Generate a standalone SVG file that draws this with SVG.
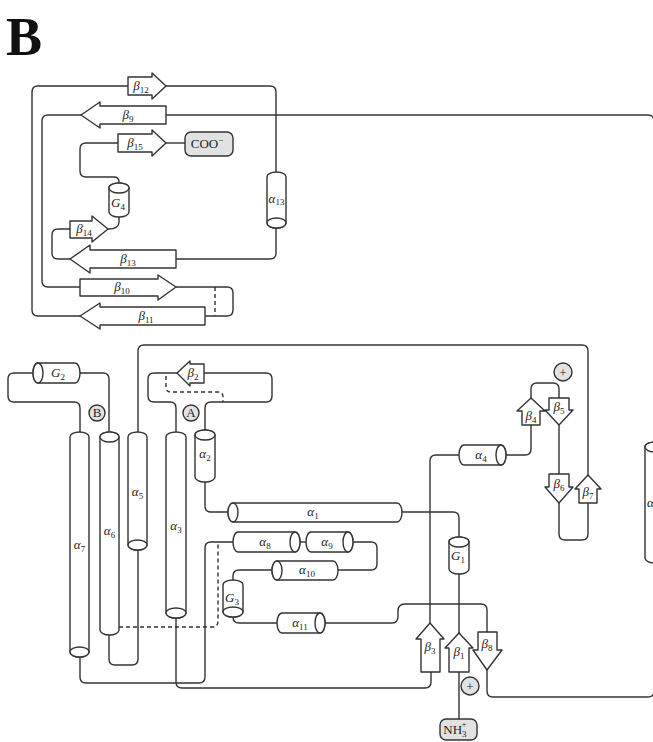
<svg xmlns="http://www.w3.org/2000/svg" width="653" height="742" viewBox="0 0 653 742">
<style>
.ln{fill:none;stroke:#333;stroke-width:1.4;stroke-linejoin:round}
.dash{stroke-dasharray:4 3}
.sh{fill:#fff;stroke:#333;stroke-width:1.4;stroke-linejoin:round}
.gr{fill:#e2e2e2;stroke:#333;stroke-width:1.4}
.lb{font-family:"Liberation Serif",serif;font-style:italic;font-size:13px;text-anchor:middle;fill:#222}
.sub{font-style:normal;font-size:9px}
.tx{font-family:"Liberation Serif",serif;font-size:13px;text-anchor:middle;fill:#222}
</style>
<rect width="653" height="742" fill="#fff"/>
<text x="6" y="55" font-family="Liberation Serif,serif" font-size="54" font-weight="bold" fill="#111">B</text>

<g id="connectors">
<path class="ln" d="M80,316 H38 Q32,316 32,310 V92 Q32,86 38,86 H128"/>
<path class="ln" d="M166,86 H270 Q276,86 276,92 V172"/>
<path class="ln" d="M276,228 V253 Q276,259 270,259 H176"/>
<path class="ln" d="M70,259 H58 Q52,259 52,253 V235 Q52,229 58,229 H70"/>
<path class="ln" d="M119,217 V222 Q119,229 108,229"/>
<path class="ln" d="M119,183 V182 Q119,177 114,177 H86 Q80,177 80,171 V149 Q80,143 86,143 H118"/>
<path class="ln" d="M166,143 H185"/>
<path class="ln" d="M81,115 H48 Q42,115 42,121 V281 Q42,287 48,287 H80"/>
<path class="ln" d="M176,287 H227 Q233,287 233,293 V310 Q233,316 227,316 H205"/>
<path class="ln dash" d="M215,287 V316"/>
<path class="ln" d="M166,115 H648 Q654,115 654,121 V691 Q654,697 648,697 H493 Q487,697 487,691 V670"/>
<path class="ln" d="M138,432 V351 Q138,345 144,345 H582 Q588,345 588,351 V475"/>
<path class="ln" d="M33,373 H14 Q8,373 8,379 V396 Q8,402 14,402 H74 Q80,402 80,408 V432"/>
<path class="ln" d="M80,373 H103 Q109,373 109,379 V432"/>
<path class="ln" d="M177,373 H154 Q148,373 148,379 V396 Q148,402 154,402 H170 Q176,402 176,408 V432"/>
<path class="ln" d="M204,373 H266 Q272,373 272,379 V396 Q272,402 266,402 H211 Q205,402 205,408 V432"/>
<path class="ln dash" d="M166,376 V387 Q166,392 171,392 H218 Q223,392 223,397 V402"/>
<path class="ln" d="M205,480 V506 Q205,512 211,512 H228"/>
<path class="ln" d="M402,512 H453 Q459,512 459,518 V540"/>
<path class="ln" d="M459,570 V633"/>
<path class="ln" d="M459,672 V719"/>
<path class="ln" d="M80,652 V677 Q80,683 86,683 H199 Q205,683 205,677 V548 Q205,542 211,542 H233"/>
<path class="ln dash" d="M119,627 H212 Q218,627 218,621 V542"/>
<path class="ln" d="M300,542 H306"/>
<path class="ln" d="M353,542 H371 Q377,542 377,548 V564 Q377,570 371,570 H338"/>
<path class="ln" d="M272,570 H239 Q233,570 233,576 V580"/>
<path class="ln" d="M233,612 V617 Q233,623 239,623 H277"/>
<path class="ln" d="M325,623 H392 Q398,623 398,616 V611 Q398,604 405,604 H481 Q487,604 487,610 V632"/>
<path class="ln" d="M109,635 V659 Q109,665 115,665 H132 Q138,665 138,659 V545"/>
<path class="ln" d="M176,613 V682 Q176,688 182,688 H425 Q431,688 431,682 V672"/>
<path class="ln" d="M430,623 V461 Q430,455 436,455 H459"/>
<path class="ln" d="M506,455 H525 Q531,455 531,449 V425"/>
<path class="ln" d="M531,398 V389 Q531,383 537,383 H553 Q559,383 559,389 V398"/>
<path class="ln" d="M559,425 V474"/>
<path class="ln" d="M559,503 V534 Q559,540 565,540 H582 Q588,540 588,534 V503"/>
</g>

<g id="b12"><polygon class="sh" points="128,77 152,77 152,73 166,86 152,99 152,95 128,95"/><text class="lb" x="141" y="90">β<tspan class="sub" dy="3">12</tspan></text></g>
<g id="b9"><polygon class="sh" points="166,106 100,106 100,102 81,115 100,128 100,124 166,124"/><text class="lb" x="128" y="119">β<tspan class="sub" dy="3">9</tspan></text></g>
<g id="b15"><polygon class="sh" points="118,134 152,134 152,130 166,143 152,156 152,152 118,152"/><text class="lb" x="135" y="147">β<tspan class="sub" dy="3">15</tspan></text></g>
<g id="coo"><rect class="gr" x="185" y="132" width="48" height="24" rx="6"/><text class="tx" x="207" y="148">COO<tspan font-size="9" dy="-5">−</tspan></text></g>
<g id="g4"><path class="sh" d="M109,188 A10,5 0 0 1 129,188 V212 A10,5 0 0 1 109,212 Z"/><ellipse class="sh" cx="119" cy="188" rx="10" ry="5"/><text class="lb" x="118" y="207">G<tspan class="sub" dy="3">4</tspan></text></g>
<g id="a13"><path class="sh" d="M267,177 A9.5,5 0 0 1 286,177 V223 A9.5,5 0 0 1 267,223 Z"/><ellipse class="sh" cx="276.5" cy="223" rx="9.5" ry="5"/><text class="lb" x="276.5" y="203" font-size="10">α<tspan class="sub" dy="2" font-size="7">13</tspan></text></g>
<g id="b14"><polygon class="sh" points="70,221 92,221 92,216 108,229 92,242 92,238 70,238"/><text class="lb" x="84" y="233">β<tspan class="sub" dy="3">14</tspan></text></g>
<g id="b13"><polygon class="sh" points="176,250 90,250 90,245 70,259 90,273 90,268 176,268"/><text class="lb" x="128" y="263">β<tspan class="sub" dy="3">13</tspan></text></g>
<g id="b10"><polygon class="sh" points="80,279 158,279 158,275 176,287 158,300 158,296 80,296"/><text class="lb" x="122" y="291">β<tspan class="sub" dy="3">10</tspan></text></g>
<g id="b11"><polygon class="sh" points="205,307 100,307 100,303 80,316 100,329 100,325 205,325"/><text class="lb" x="146" y="320">β<tspan class="sub" dy="3">11</tspan></text></g>

<g id="g2"><path class="sh" d="M38,363 H75 A5,10 0 0 1 75,383 H38 A5,10 0 0 1 38,363 Z"/><ellipse class="sh" cx="38" cy="373" rx="5" ry="10"/><text class="lb" x="58" y="377">G<tspan class="sub" dy="3">2</tspan></text></g>
<g id="cB"><circle class="gr" cx="97" cy="413" r="8"/><text class="tx" x="97" y="417" font-size="11">B</text></g>
<g id="cA"><circle class="gr" cx="191" cy="413" r="8"/><text class="tx" x="191" y="417" font-size="11">A</text></g>
<g id="b2"><polygon class="sh" points="204,364 190,364 190,361 177,373 190,386 190,383 204,383"/><text class="lb" x="193" y="377">β<tspan class="sub" dy="3">2</tspan></text></g>
<g id="a7"><path class="sh" d="M70,437 A9.5,5 0 0 1 89,437 V652 A9.5,5 0 0 1 70,652 Z"/><ellipse class="sh" cx="79.5" cy="652" rx="9.5" ry="5"/><text class="lb" x="79.5" y="549">α<tspan class="sub" dy="3">7</tspan></text></g>
<g id="a6"><path class="sh" d="M100,437 A9.5,5 0 0 1 119,437 V630 A9.5,5 0 0 1 100,630 Z"/><ellipse class="sh" cx="109.5" cy="437" rx="9.5" ry="5"/><text class="lb" x="109.5" y="535">α<tspan class="sub" dy="3">6</tspan></text></g>
<g id="a5"><path class="sh" d="M128,437 A9.5,5 0 0 1 147,437 V545 A9.5,5 0 0 1 128,545 Z"/><ellipse class="sh" cx="137.5" cy="545" rx="9.5" ry="5"/><text class="lb" x="137.5" y="496">α<tspan class="sub" dy="3">5</tspan></text></g>
<g id="a3"><path class="sh" d="M166,437 A10,5 0 0 1 186,437 V613 A10,5 0 0 1 166,613 Z"/><ellipse class="sh" cx="176" cy="613" rx="10" ry="5"/><text class="lb" x="176" y="530">α<tspan class="sub" dy="3">3</tspan></text></g>
<g id="a2"><path class="sh" d="M195,435 A10,5 0 0 1 215,435 V477 A10,5 0 0 1 195,477 Z"/><ellipse class="sh" cx="205" cy="435" rx="10" ry="5"/><text class="lb" x="205" y="458">α<tspan class="sub" dy="3">2</tspan></text></g>
<g id="a1"><path class="sh" d="M233,503 H397 A5,9.5 0 0 1 397,522 H233 A5,9.5 0 0 1 233,503 Z"/><ellipse class="sh" cx="233" cy="512.5" rx="5" ry="9.5"/><text class="lb" x="313" y="516">α<tspan class="sub" dy="3">1</tspan></text></g>
<g id="a8"><path class="sh" d="M238,532 H295 A5,10 0 0 1 295,552 H238 A5,10 0 0 1 238,532 Z"/><ellipse class="sh" cx="295" cy="542" rx="5" ry="10"/><text class="lb" x="265" y="546">α<tspan class="sub" dy="3">8</tspan></text></g>
<g id="a9"><path class="sh" d="M311,532 H348 A5,10 0 0 1 348,552 H311 A5,10 0 0 1 311,532 Z"/><ellipse class="sh" cx="348" cy="542" rx="5" ry="10"/><text class="lb" x="327" y="546">α<tspan class="sub" dy="3">9</tspan></text></g>
<g id="a10"><path class="sh" d="M277,561 H333 A5,9.5 0 0 1 333,580 H277 A5,9.5 0 0 1 277,561 Z"/><ellipse class="sh" cx="277" cy="570.5" rx="5" ry="9.5"/><text class="lb" x="307" y="574">α<tspan class="sub" dy="3">10</tspan></text></g>
<g id="g3"><path class="sh" d="M223,585 A10,5 0 0 1 243,585 V612 A10,5 0 0 1 223,612 Z"/><ellipse class="sh" cx="233" cy="612" rx="10" ry="5"/><text class="lb" x="232" y="602">G<tspan class="sub" dy="3">3</tspan></text></g>
<g id="a11"><path class="sh" d="M282,613 H320 A5,10 0 0 1 320,633 H282 A5,10 0 0 1 282,613 Z"/><ellipse class="sh" cx="320" cy="623" rx="5" ry="10"/><text class="lb" x="300" y="627">α<tspan class="sub" dy="3">11</tspan></text></g>
<g id="g1"><path class="sh" d="M449,542 A10,5 0 0 1 469,542 V569 A10,5 0 0 1 449,569 Z"/><ellipse class="sh" cx="459" cy="542" rx="10" ry="5"/><text class="lb" x="458" y="560">G<tspan class="sub" dy="3">1</tspan></text></g>
<g id="a4"><path class="sh" d="M464,445 H501 A5,10 0 0 1 501,465 H464 A5,10 0 0 1 464,445 Z"/><ellipse class="sh" cx="501" cy="455" rx="5" ry="10"/><text class="lb" x="481" y="459">α<tspan class="sub" dy="3">4</tspan></text></g>
<g id="a12"><path class="sh" d="M645,447 A10,5 0 0 1 665,447 V558 A10,5 0 0 1 645,558 Z"/><ellipse class="sh" cx="655" cy="447" rx="10" ry="5"/><text class="lb" x="655" y="507">α<tspan class="sub" dy="3">12</tspan></text></g>
<g id="b4"><polygon class="sh" points="522,425 522,411 517,411 531,398 545,411 540,411 540,425"/><text class="lb" x="531" y="420">β<tspan class="sub" dy="3">4</tspan></text></g>
<g id="b5"><polygon class="sh" points="549,398 549,410 545,410 559,425 573,410 569,410 569,398"/><text class="lb" x="559" y="411">β<tspan class="sub" dy="3">5</tspan></text></g>
<g id="pl1"><circle class="gr" cx="563" cy="372" r="9"/><text class="tx" x="563" y="377" font-size="14">+</text></g>
<g id="b6"><polygon class="sh" points="549,474 549,487 545,487 559,503 573,487 569,487 569,474"/><text class="lb" x="559" y="488">β<tspan class="sub" dy="3">6</tspan></text></g>
<g id="b7"><polygon class="sh" points="579,503 579,489 575,489 588,475 601,489 597,489 597,503"/><text class="lb" x="588" y="496">β<tspan class="sub" dy="3">7</tspan></text></g>
<g id="b3"><polygon class="sh" points="421,672 421,639 416,639 430,623 444,639 440,639 440,672"/><text class="lb" x="430" y="651">β<tspan class="sub" dy="3">3</tspan></text></g>
<g id="b1"><polygon class="sh" points="449,672 449,648 445,648 459,633 473,648 469,648 469,672"/><text class="lb" x="459" y="656">β<tspan class="sub" dy="3">1</tspan></text></g>
<g id="b8"><polygon class="sh" points="478,632 478,650 473,650 487,670 502,650 497,650 497,632"/><text class="lb" x="487" y="648">β<tspan class="sub" dy="3">8</tspan></text></g>
<g id="pl2"><circle class="gr" cx="470" cy="686" r="9"/><text class="tx" x="470" y="691" font-size="14">+</text></g>
<g id="nh3"><rect class="gr" x="440" y="719" width="37" height="21" rx="6"/><text class="tx" x="455" y="734">NH<tspan font-size="9" dy="3">3</tspan><tspan font-size="9" dx="-5" dy="-10">+</tspan></text></g>
</svg>
